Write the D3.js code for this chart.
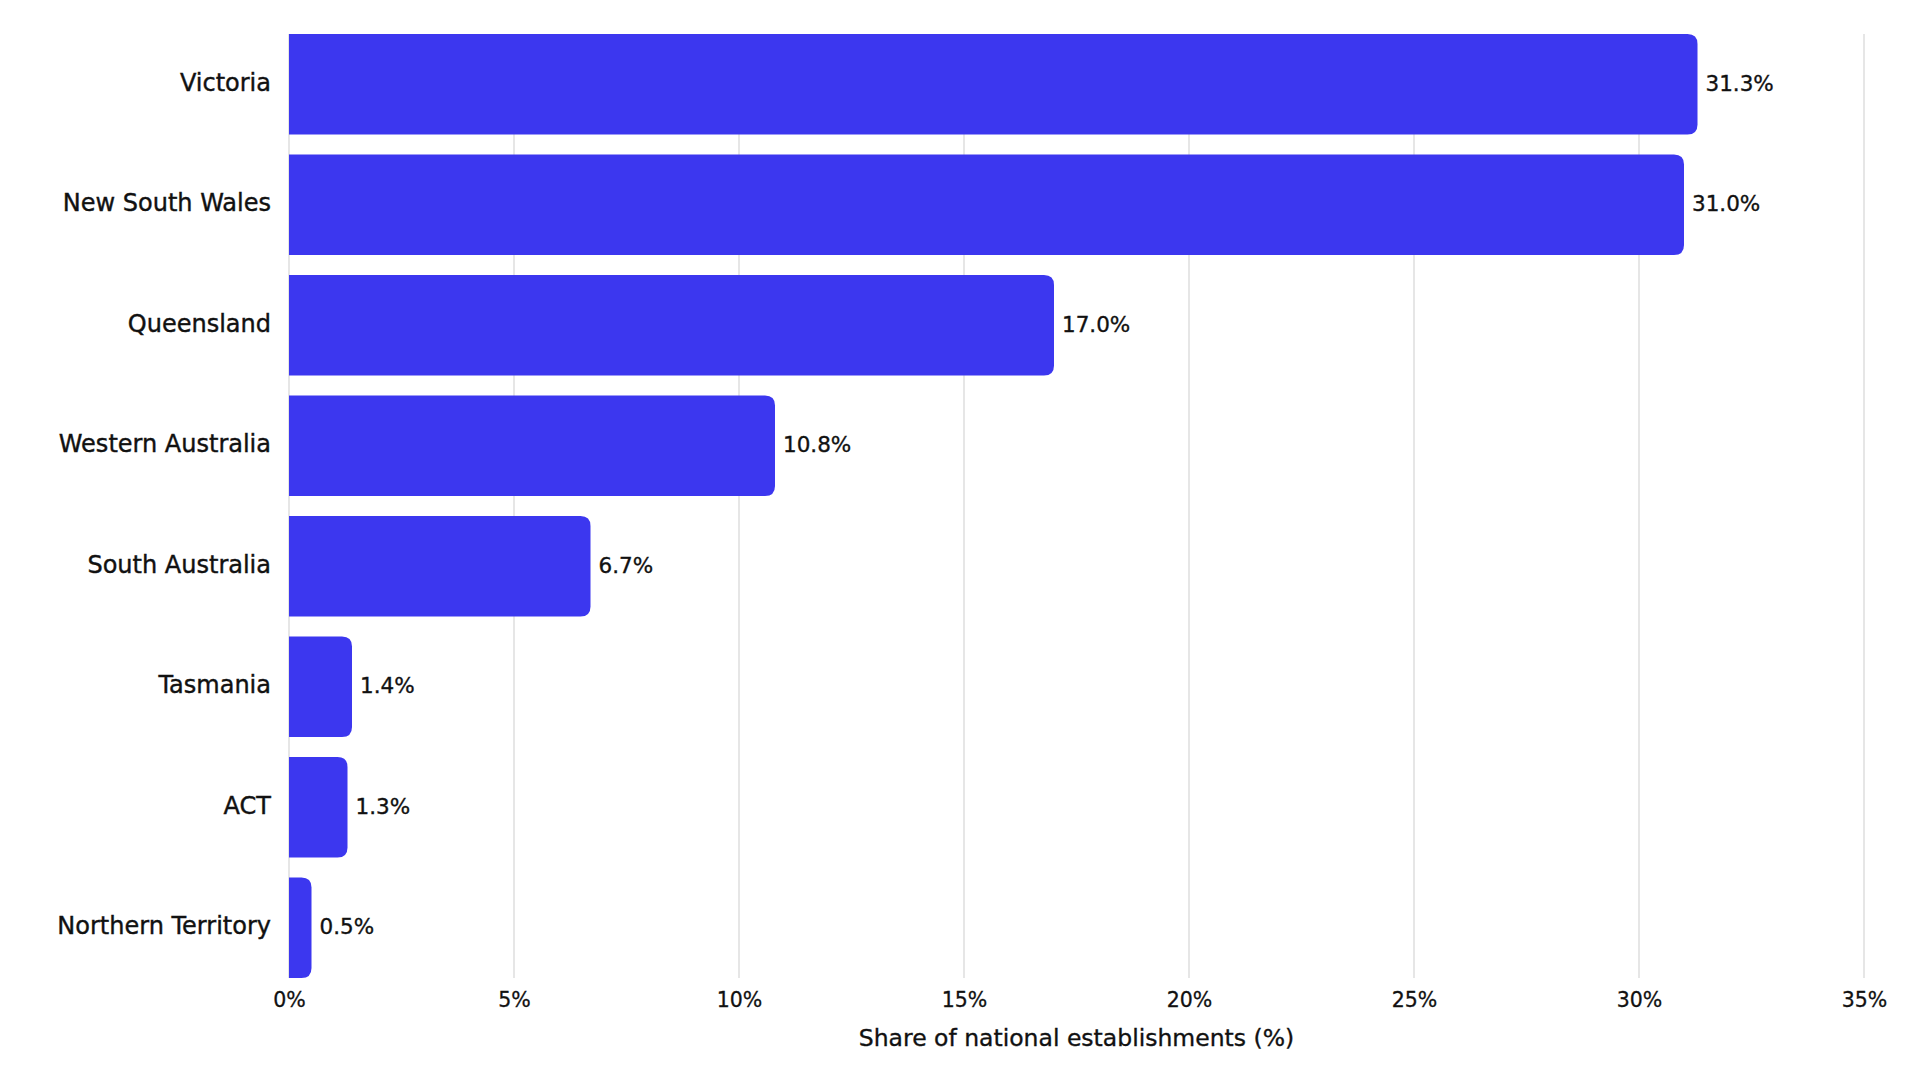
<!DOCTYPE html>
<html>
<head>
<meta charset="utf-8">
<script src="https://cdn.jsdelivr.net/npm/d3@7"></script>
<style>
  html, body { margin: 0; padding: 0; background: #ffffff; }
  svg { display: block; }
  text { font-family: "DejaVu Sans", sans-serif; fill: #111111; }
</style>
</head>
<body>
<svg id="chart" width="1920" height="1080"></svg>
<script>
const categories = ["Victoria", "New South Wales", "Queensland", "Western Australia", "South Australia", "Tasmania", "ACT", "Northern Territory"];
const shares = [31.3, 31.0, 17.0, 10.8, 6.7, 1.4, 1.3, 0.5];
const tickValues = [0, 5, 10, 15, 20, 25, 30, 35];
const axisTitle = "Share of national establishments (%)";

(function () {
const svg = d3.select("#chart");
const mLeft = 289, mRight = 1864, mTop = 34, mBottom = 978;

const x = d3.scaleLinear().domain([0, 35]).range([mLeft, mRight]);
const y = d3.scaleBand().domain(categories).range([mTop, mBottom]).paddingInner(0.165).paddingOuter(0);

// grid
svg.append("g").selectAll("line").data(tickValues).join("line")
  .attr("x1", d => x(d)).attr("x2", d => x(d))
  .attr("y1", mTop).attr("y2", mBottom)
  .attr("stroke", "#d6d6d6").attr("stroke-width", 1.2);

// bars with rounded right corners
const r = 10;
function barPath(v, cat) {
  const x0 = x(0), x1 = x(v), y0 = y(cat), h = y.bandwidth();
  const rr = Math.min(r, (x1 - x0) / 2, h / 2);
  return `M${x0},${y0} H${x1 - rr} Q${x1},${y0} ${x1},${y0 + rr} V${y0 + h - rr} Q${x1},${y0 + h} ${x1 - rr},${y0 + h} H${x0} Z`;
}
svg.append("g").selectAll("path").data(categories).join("path")
  .attr("d", (c, i) => barPath(shares[i], c))
  .attr("fill", "#3c37ef");

// value labels
svg.append("g").selectAll("text").data(categories).join("text")
  .attr("x", (c, i) => x(shares[i]) + 8)
  .attr("y", c => y(c) + y.bandwidth() / 2)
  .attr("dy", "0.3em")
  .attr("font-size", 21.5)
  .attr("stroke", "#111").attr("stroke-width", 0.35)
  .text((c, i) => shares[i].toFixed(1) + "%");

// category labels
svg.append("g").selectAll("text").data(categories).join("text")
  .attr("x", 271)
  .attr("y", c => y(c) + y.bandwidth() / 2)
  .attr("dy", "0.27em")
  .attr("text-anchor", "end")
  .attr("font-size", 24)
  .attr("stroke", "#111").attr("stroke-width", 0.4)
  .text(c => c);

// x axis
const xAxis = d3.axisBottom(x).tickValues(tickValues).tickFormat(d => d + "%").tickSize(0).tickPadding(0);
const gx = svg.append("g").attr("transform", `translate(0,${mBottom})`).call(xAxis);
gx.select(".domain").remove();
gx.selectAll("text").attr("font-size", 20.5).attr("dy", null).attr("y", 29)
  .style("font-family", '"DejaVu Sans", sans-serif').attr("fill", "#111")
  .attr("stroke", "#111").attr("stroke-width", 0.3);

// axis title
svg.append("text")
  .attr("x", (mLeft + mRight) / 2)
  .attr("y", 1046)
  .attr("text-anchor", "middle")
  .attr("font-size", 23.5)
  .attr("stroke", "#111").attr("stroke-width", 0.35)
  .text(axisTitle);
})();
</script>
</body>
</html>
